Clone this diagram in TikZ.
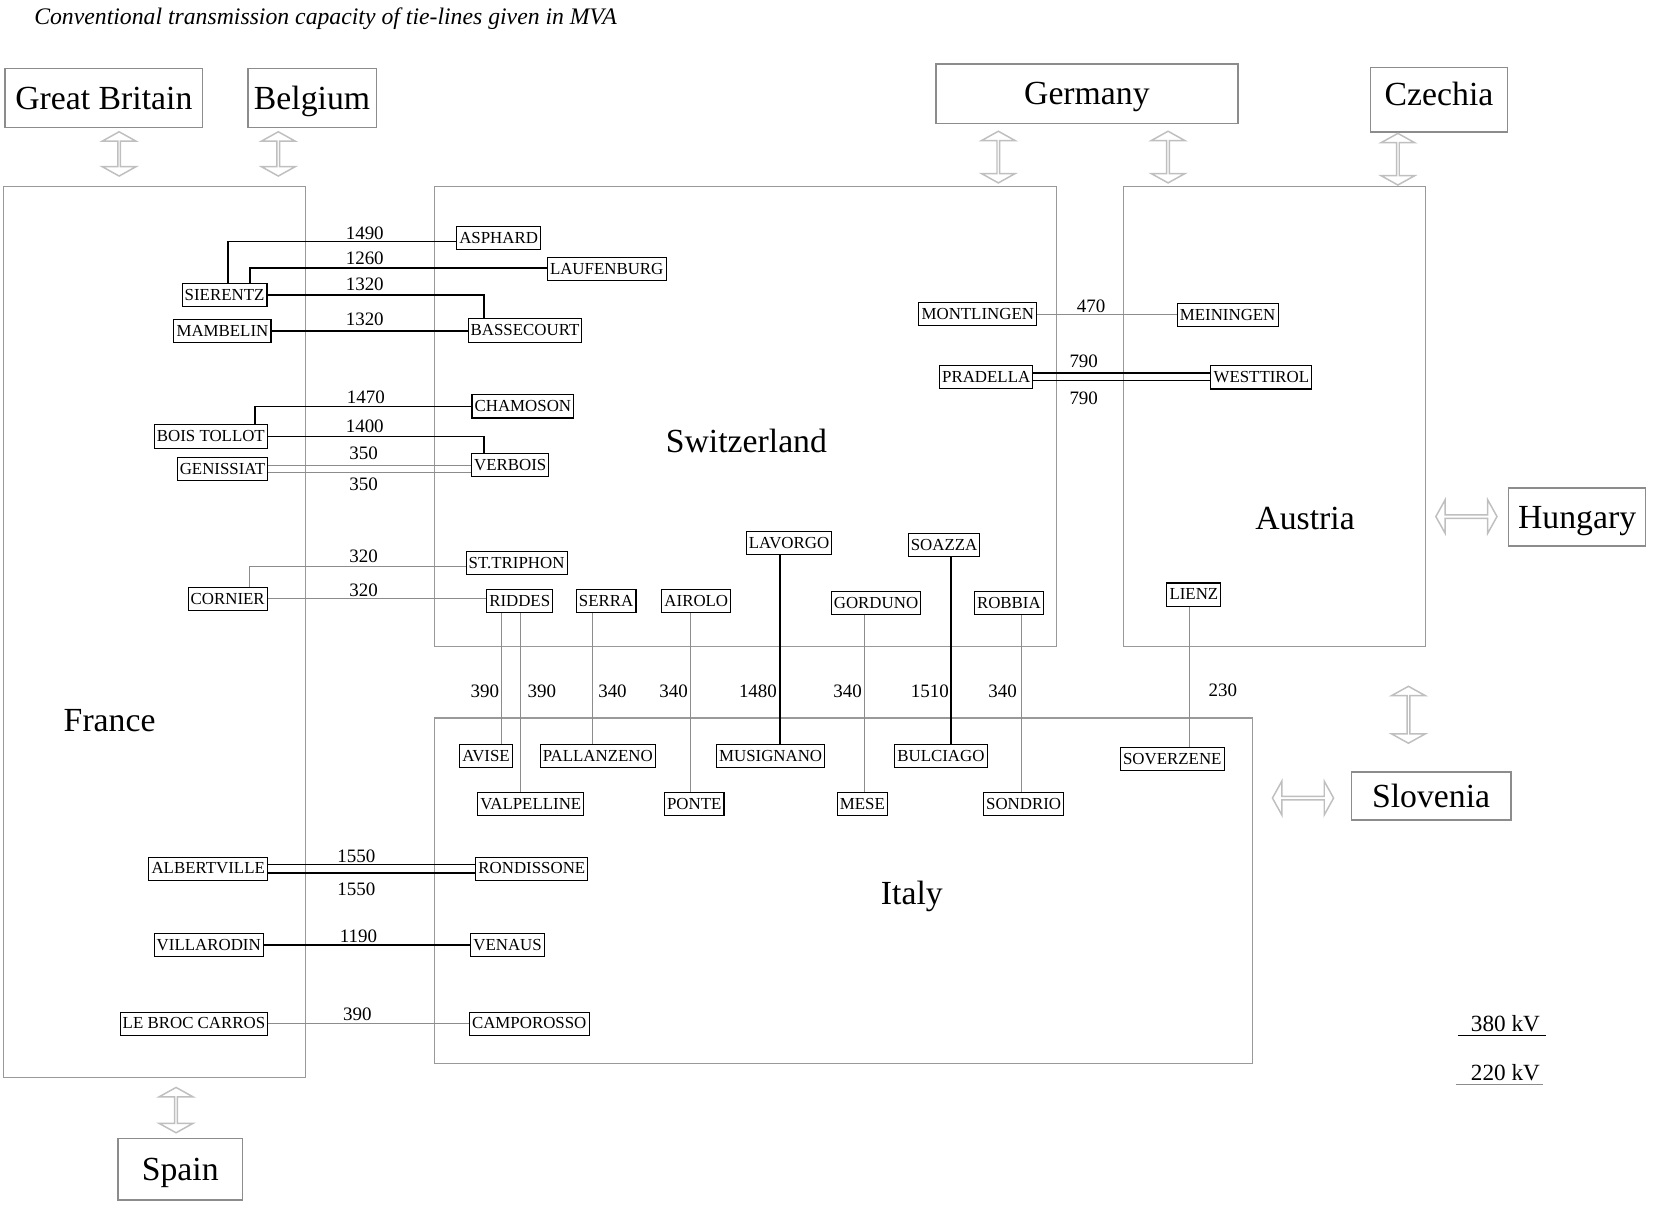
\documentclass[tikz,border=0pt]{standalone}
\usepackage{fontspec}
\setmainfont{Liberation Serif}
\usetikzlibrary{shapes.arrows}
\begin{document}
\begin{tikzpicture}[
      x=1pt, y=-1pt,
      region/.style={rectangle, draw=black!40, line width=1.2pt,
        inner sep=0pt, outer sep=0pt},
      land/.style={rectangle, draw=black!45, line width=1.6pt,
        inner sep=0pt, text depth=0pt, font=\fontsize{32}{36}\selectfont},
      regname/.style={text depth=0pt, font=\fontsize{32}{36}\selectfont},
      station/.style={rectangle, draw, line width=1pt, inner xsep=2.5pt,
        inner ysep=5pt, text height=11pt, text depth=1pt,
        font=\fontsize{16}{18}\selectfont},
      mva/.style={font=\fontsize{18}{20}\selectfont},
      kvhigh/.style={line width=1.6pt, draw=black},
      kvlow/.style={line width=1pt, draw=black!45},
      link/.style={double arrow, draw=black!25, fill=white, line width=1.4pt,
        inner sep=0pt, minimum width=32pt, double arrow head extend=8pt,
        double arrow tip angle=122},
      flatlink/.style={link, double arrow head extend=6pt}
    ]
    \useasboundingbox (0,0) rectangle (1568,1146);
    \path (29,18) node(title) [anchor=west, font=\itshape\fontsize{22.5}{26}\selectfont]
      {Conventional transmission capacity of tie-lines given in MVA};
    % countries around
    \path (98.5,93) node(gb) [land, minimum width=187pt, minimum height=56pt] {Great Britain}
    (296,93) node(be) [land, minimum width=122pt, minimum height=56pt] {Belgium}
    (1031,89) node(de) [land, minimum width=286pt, minimum height=56pt] {Germany}
    (1365,94.5) node(cz) [land, minimum width=130pt, minimum height=61pt, text depth=11pt] {Czechia}
    (1496,490.5) node(hu) [land, minimum width=130pt, minimum height=55pt] {Hungary}
    (1357.5,755) node(si) [land, minimum width=151pt, minimum height=46pt] {Slovenia}
    (171,1109) node(es) [land, minimum width=118pt, minimum height=58pt] {Spain};
    % regions
    \path (146.5,599.5) node(fr) [region, minimum width=287pt, minimum height=845pt] {}
    (707,395) node(ch) [region, minimum width=590pt, minimum height=436pt] {}
    (1209,395) node(at) [region, minimum width=286pt, minimum height=436pt] {}
    (800,845) node(it) [region, minimum width=776pt, minimum height=328pt] {};
    \path (104,683) node(frname) [regname] {France}
    (708,418) node(chname) [regname] {Switzerland}
    (1238,492) node(atname) [regname] {Austria}
    (865,847) node(itname) [regname] {Italy};
    % exchanges
    \path (113,146) node(gbfr) [link, rotate=90, minimum height=42pt] {}
    (264,146) node(befr) [link, rotate=90, minimum height=42pt] {}
    (947,149) node(dech) [link, rotate=90, minimum height=49pt] {}
    (1108,149) node(deat) [link, rotate=90, minimum height=49pt] {}
    (1326,151) node(czat) [link, rotate=90, minimum height=49pt] {}
    (1336,678) node(atsi) [link, rotate=90, minimum height=54pt] {}
    (167,1053) node(fres) [link, rotate=90, minimum height=43pt] {}
    (1391,490) node(athu) [flatlink, minimum height=58pt] {}
    (1236,757) node(itsi) [flatlink, minimum height=58pt] {};
    % substations
    \path (473,226) node(asphard) [station] {ASPHARD}
    (575.5,255) node(laufenburg) [station] {LAUFENBURG}
    (213,280) node(sierentz) [station] {SIERENTZ}
    (211,314) node(mambelin) [station] {MAMBELIN}
    (498,313.5) node(bassecourt) [station] {BASSECOURT}
    (496,385.5) node(chamoson) [station] {CHAMOSON}
    (200,414) node(boistollot) [station] {BOIS TOLLOT}
    (211,445) node(genissiat) [station] {GENISSIAT}
    (484,441) node(verbois) [station] {VERBOIS}
    (490,534) node(sttriphon) [station] {ST.TRIPHON}
    (216,568) node(cornier) [station] {CORNIER}
    (493,570) node(riddes) [station] {RIDDES}
    (575,570) node(serra) [station] {SERRA}
    (660.5,570) node(airolo) [station] {AIROLO}
    (748.5,515) node(lavorgo) [station] {LAVORGO}
    (895.5,517) node(soazza) [station] {SOAZZA}
    (831,572) node(gorduno) [station] {GORDUNO}
    (957,572) node(robbia) [station] {ROBBIA}
    (927.5,298) node(montlingen) [station] {MONTLINGEN}
    (1164.5,299) node(meiningen) [station] {MEININGEN}
    (935.5,357.5) node(pradella) [station] {PRADELLA}
    (1196.5,358) node(westtirol) [station] {WESTTIROL}
    (1132.5,564) node(lienz) [station] {LIENZ}
    (461,717) node(avise) [station] {AVISE}
    (567,717) node(pallanzeno) [station] {PALLANZENO}
    (731,717) node(musignano) [station] {MUSIGNANO}
    (892.5,717) node(bulciago) [station] {BULCIAGO}
    (1112,720) node(soverzene) [station] {SOVERZENE}
    (503.5,763) node(valpelline) [station] {VALPELLINE}
    (658.5,763) node(ponte) [station] {PONTE}
    (818,763) node(mese) [station] {MESE}
    (971,763) node(sondrio) [station] {SONDRIO}
    (197.5,824) node(albertville) [station] {ALBERTVILLE}
    (504.5,824) node(rondissone) [station] {RONDISSONE}
    (198,896.5) node(villarodin) [station] {VILLARODIN}
    (481.5,896.5) node(venaus) [station] {VENAUS}
    (184,971) node(lebroc) [station] {LE BROC CARROS}
    (502,971) node(camporosso) [station] {CAMPOROSSO};
    % tie-lines
    \draw[kvhigh] ([yshift=-3pt]asphard.west) -| ([xshift=3pt]sierentz.north);
    \draw[kvhigh] ([yshift=1pt]laufenburg.west) -| ([xshift=24pt]sierentz.north);
    \draw[kvhigh] (sierentz.east) -| ([xshift=-39pt]bassecourt.north);
    \draw[kvhigh] (mambelin.east) -- (mambelin.east -| bassecourt.west);
    \draw[kvhigh] (chamoson.west) -| ([xshift=42pt]boistollot.north);
    \draw[kvhigh] (boistollot.east) -| ([xshift=-25pt]verbois.north);
    \draw[kvlow] ([yshift=3pt]genissiat.east) -- ([yshift=3pt]genissiat.east -| verbois.west);
    \draw[kvlow] ([yshift=-3pt]genissiat.east) -- ([yshift=-3pt]genissiat.east -| verbois.west);
    \draw[kvlow] ([xshift=21pt]cornier.north) |- ([yshift=-3pt]sttriphon.west);
    \draw[kvlow] (cornier.east) -- (cornier.east -| riddes.west);
    \draw[kvlow] ([xshift=-17pt]riddes.south) -- ([xshift=15pt]avise.north);
    \draw[kvlow] ([xshift=1pt]riddes.south) -- ([xshift=-9.5pt]valpelline.north);
    \draw[kvlow] ([xshift=-13pt]serra.south) -- ([xshift=-5pt]pallanzeno.north);
    \draw[kvlow] ([xshift=-5.5pt]airolo.south) -- ([xshift=-3.5pt]ponte.north);
    \draw[kvhigh] ([xshift=-8.5pt]lavorgo.south) -- ([xshift=9pt]musignano.north);
    \draw[kvlow] ([xshift=-11pt]gorduno.south) -- ([xshift=2pt]mese.north);
    \draw[kvhigh] ([xshift=6.5pt]soazza.south) -- ([xshift=9.5pt]bulciago.north);
    \draw[kvlow] ([xshift=12pt]robbia.south) -- ([xshift=-2pt]sondrio.north);
    \draw[kvlow] ([xshift=-4.5pt]lienz.south) -- ([xshift=16pt]soverzene.north);
    \draw[kvlow] (montlingen.east) -- (montlingen.east -| meiningen.west);
    \draw[kvhigh] ([yshift=3.5pt]pradella.east) -- ([yshift=3.5pt]pradella.east -| westtirol.west);
    \draw[kvhigh] ([yshift=-3.5pt]pradella.east) -- ([yshift=-3.5pt]pradella.east -| westtirol.west);
    \draw[kvhigh] ([yshift=4pt]albertville.east) -- ([yshift=4pt]albertville.east -| rondissone.west);
    \draw[kvhigh] ([yshift=-4pt]albertville.east) -- ([yshift=-4pt]albertville.east -| rondissone.west);
    \draw[kvhigh] (villarodin.east) -- (venaus.west);
    \draw[kvlow] (lebroc.east) -- (camporosso.west);
    % capacities
    \path (346,221) node(c1490) [mva] {1490}
    (346,245) node(c1260) [mva] {1260}
    (346,270) node(c1320a) [mva] {1320}
    (346,303) node(c1320b) [mva] {1320}
    (347,377) node(c1470) [mva] {1470}
    (346,404) node(c1400) [mva] {1400}
    (345,430) node(c350a) [mva] {350}
    (345,459) node(c350b) [mva] {350}
    (345,528) node(c320a) [mva] {320}
    (345,560) node(c320b) [mva] {320}
    (460,656) node(c390a) [mva] {390}
    (514,656) node(c390b) [mva] {390}
    (581,656) node(c340a) [mva] {340}
    (639,656) node(c340b) [mva] {340}
    (719,656) node(c1480) [mva] {1480}
    (804,656) node(c340c) [mva] {340}
    (882,656) node(c1510) [mva] {1510}
    (951,656) node(c340d) [mva] {340}
    (1160,655) node(c230) [mva] {230}
    (1035,291) node(c470) [mva] {470}
    (1028,343) node(c790a) [mva] {790}
    (1028,378) node(c790b) [mva] {790}
    (338,812) node(c1550a) [mva] {1550}
    (338,844) node(c1550b) [mva] {1550}
    (340,888) node(c1190) [mva] {1190}
    (339,962) node(c390c) [mva] {390};
    % legend
    \path (1428,971) node(l380) [font=\fontsize{22}{26}\selectfont] {380 kV}
    (1428,1017) node(l220) [font=\fontsize{22}{26}\selectfont] {220 kV};
    \draw[kvhigh] ([xshift=-9pt]l380.south west) -- ([xshift=2pt]l380.south east);
    \draw[kvlow] ([xshift=-11pt]l220.south west) -- ([xshift=-1pt]l220.south east);
  \end{tikzpicture}
\end{document}
